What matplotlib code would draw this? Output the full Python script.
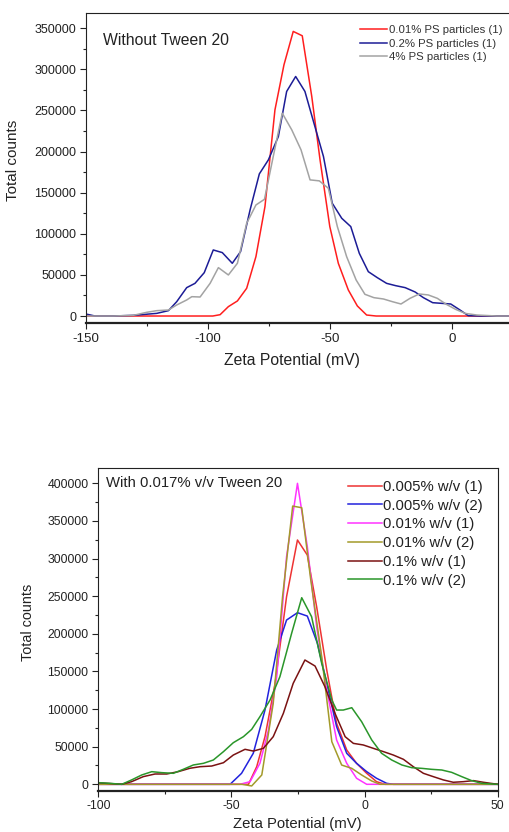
import matplotlib
matplotlib.use("Agg")
import matplotlib.pyplot as plt
from matplotlib.ticker import MultipleLocator

plt.rcParams["font.family"] = ["Liberation Sans", "DejaVu Sans"]
plt.rcParams["axes.unicode_minus"] = False

# ── Top panel data (without Tween 20) ─────────────────────────────────────────
red_x = [-150, -130, -110, -98, -95, -91.6, -87.9, -84.1, -80.3, -76.6, -72.5, -68.8,
         -65.0, -61.3, -57.4, -54.0, -50.0, -46.5, -42.4, -38.7, -34.9, -31, 0, 23.5]
red_y = [0, 0, 0, 0, 1600, 11400, 18300, 33700, 72200, 133000, 250600, 305400,
         346000, 340700, 266900, 189800, 108700, 64000, 31600, 12200, 1200, 0, 0, 0]

navy_x = [-150, -146.3, -138.8, -130.6, -121, -116.2, -112.8, -108.7, -105.3, -101.5,
          -97.8, -94.1, -90, -86.6, -82.7, -78.9, -75.2, -71.1, -67.7, -64, -60.2,
          -56.5, -52.6, -49, -45.1, -41.4, -37.9, -34.2, -30.5, -26.7, -23, -19.1,
          -15.0, -11.6, -7.8, -4.1, -0.4, 3.4, 6.8, 11.6, 18.5, 23.5]
navy_y = [2400, 0, 0, 800, 3200, 6500, 17400, 34500, 39700, 52700,
          80300, 77100, 64100, 78300, 129000, 172800, 189800, 218200, 273000, 291200, 273000,
          234400, 193900, 137100, 118800, 108700, 76200, 53900, 46600, 39700, 36900, 34500,
          29200, 22300, 16200, 15400, 14600, 7300, 400, 0, 0, 0]

gray_x = [-150, -138.8, -130.6, -125.1, -121, -116.2, -112.8, -108.7, -106.6, -103.2,
          -99.1, -95.7, -91.6, -87.9, -84.1, -80.3, -76.8, -73.2, -69.5, -65.6, -61.8,
          -58.1, -54.3, -50.6, -46.9, -43.1, -39.2, -35.6, -31.9, -28.0, -24.3, -20.8,
          -17.1, -13.3, -9.6, -5.9, -2.2, 1.6, 5.5, 10.3, 18.5, 23.5]
gray_y = [0, 0, 800, 4500, 6500, 7300, 13400, 19500, 23500, 23100,
          39700, 58800, 49900, 64100, 112700, 135000, 141900, 193900, 246600, 226300, 202000,
          165500, 164300, 155300, 108700, 72200, 43800, 26400, 22300, 20700, 17400, 14600,
          21500, 26800, 25600, 21500, 14200, 8100, 3200, 1200, 0, 0]

top_labels = ["0.01% PS particles (1)", "0.2% PS particles (1)", "4% PS particles (1)"]

# ── Bottom panel data (with 0.017% v/v Tween 20) ──────────────────────────────
r1_x = [-100, -60, -43.6, -40.5, -37.4, -33.6, -29.3, -25.2, -21.5, -18.0, -14.2, -10.5,
        -6.7, -3.0, 0.8, 4.5, 7.7, 50]
r1_y = [0, 0, 0, 23500, 63300, 134200, 249300, 324700, 304700, 236000, 151900, 81000,
        45600, 27900, 14600, 3500, 0, 0]

b2_x = [-100, -60, -50.5, -46.2, -41.8, -37.4, -33.0, -29.3, -25.2, -21.5, -17.7, -14.2,
        -10.5, -6.7, -3.0, 0.8, 4.5, 8.3, 10.8, 50]
b2_y = [0, 0, 0, 14600, 41200, 98700, 178500, 218300, 228100, 223600, 187300, 134200,
        76600, 41200, 27900, 16800, 8000, 1300, 0, 0]

m1_x = [-100, -60, -46.8, -43.0, -39.3, -36.1, -33.0, -29.3, -25.2, -21.5, -18.0, -14.2,
        -10.5, -6.7, -3.0, 0.8, 50]
m1_y = [0, 0, 0, 3500, 27900, 72200, 143000, 302500, 400000, 315800, 209500, 125300,
        58900, 27900, 8000, 0, 0]

o2_x = [-100, -60, -51.8, -46, -42.4, -38.6, -34.3, -30.8, -27.0, -23.6, -20.2, -16.1,
        -12.3, -8.6, -4.8, -1.1, 2.7, 5.8, 50]
o2_y = [0, 0, 0, 0, -2200, 12400, 107600, 249300, 369800, 367600, 271500, 169600,
        56600, 25600, 21200, 12400, 4400, 0, 0]

d1_x = [-100, -91.2, -87.5, -83.1, -78.7, -74.3, -70.0, -65.6, -61.8, -57.4, -53.0,
        -49.3, -44.9, -41.8, -38.0, -34.3, -30.5, -26.8, -22.4, -18.6, -14.9, -11.1,
        -7.3, -4.2, -0.5, 3.3, 7.1, 10.8, 14.6, 18.3, 22.1, 25.8, 29.6, 33.3, 37.1,
        40.9, 44.6, 50]
d1_y = [2000, 0, 3500, 10200, 13700, 13700, 16800, 21300, 23400, 24300, 28700,
        38900, 46500, 44200, 47800, 63300, 94300, 134200, 165200, 157200, 129800, 94300,
        63300, 54400, 52300, 47800, 43400, 38900, 33200, 23400, 14600, 10200, 5800, 2700, 3500,
        4900, 2700, 0]

g2_x = [-100, -95.6, -91.2, -87.5, -83.7, -79.9, -76.2, -71.8, -68.1, -64.3, -60.5,
        -56.8, -53.0, -49.3, -45.5, -42.4, -39.3, -35.5, -31.8, -27.4, -23.6, -19.9,
        -16.1, -12.3, -10.5, -8.0, -4.8, -1.1, 2.7, 6.4, 10.2, 14.0, 17.7, 21.5, 25.2,
        29.0, 32.7, 36.5, 40.2, 44.0, 50]
g2_y = [2200, 1300, 0, 5800, 12400, 16800, 15500, 14600, 19900, 25700, 27900,
        32300, 43400, 55300, 63300, 73000, 89900, 112000, 143000, 200600, 248000, 222800,
        160700, 112000, 98700, 98700, 101800, 83200, 58900, 41200, 32300, 25700, 22100, 21200, 19900,
        19000, 15900, 10200, 4900, 1300, 0]

bottom_labels = ["0.005% w/v (1)", "0.005% w/v (2)", "0.01% w/v (1)",
                 "0.01% w/v (2)", "0.1% w/v (1)", "0.1% w/v (2)"]

# ── Figure ───────────────────────────────────────────────────────────────────
W, H = 509, 832
fig = plt.figure(figsize=(W / 100, H / 100), dpi=100)
fig.patch.set_facecolor("white")


def px_axes(left, top, right, bottom):
    return fig.add_axes([left / W, 1 - bottom / H, (right - left) / W, (bottom - top) / H])


def style(ax, xmaj, ymaj, tick_fs):
    ax.xaxis.set_major_locator(MultipleLocator(xmaj))
    ax.xaxis.set_minor_locator(MultipleLocator(xmaj / 2))
    ax.yaxis.set_major_locator(MultipleLocator(ymaj))
    ax.yaxis.set_minor_locator(MultipleLocator(ymaj / 2))
    ax.tick_params(which="major", direction="out", length=4.5, width=0.8,
                   labelsize=tick_fs, pad=2.5, colors="#222222")
    ax.tick_params(which="minor", direction="out", length=2.5, width=0.8, colors="#222222")
    ax.tick_params(top=False, right=False, which="both")
    for s in ax.spines.values():
        s.set_linewidth(0.8)
        s.set_color("#222222")
    ax.spines["bottom"].set_linewidth(1.6)


# Top panel
ax1 = px_axes(86, 12.5, 509, 323)
ax1.plot(red_x, red_y, color="#ff1e1e", lw=1.1, label=top_labels[0])
ax1.plot(navy_x, navy_y, color="#1c1c96", lw=1.1, label=top_labels[1])
ax1.plot(gray_x, gray_y, color="#a3a3a3", lw=1.1, label=top_labels[2])
ax1.set_xlim(-150, 23.5)
ax1.set_ylim(-8500, 369000)
style(ax1, 50, 50000, 9)
ax1.tick_params(axis="x", labelsize=9.6)
ax1.spines["right"].set_visible(False)
ax1.set_xlabel("Zeta Potential (mV)", fontsize=11.3, color="#222222")
ax1.set_ylabel("Total counts", fontsize=11, color="#222222")
ax1.xaxis.set_label_coords(0.488, -0.097)
ax1.yaxis.set_label_coords(-0.156, 0.525)
ax1.text(0.041, 0.911, "Without Tween 20", transform=ax1.transAxes,
         fontsize=11.3, va="center", ha="left", color="#222222")
ax1.legend(loc="upper left", bbox_to_anchor=(0.648, 0.959), frameon=False,
           fontsize=8.2, handlelength=2.35, handletextpad=0.15, labelspacing=0.3,
           borderpad=0, borderaxespad=0, labelcolor="#333333")

# Bottom panel
ax2 = px_axes(98.3, 468.3, 497.7, 790.7)
ax2.plot(r1_x, r1_y, color="#ee3333", lw=1.1, label=bottom_labels[0])
ax2.plot(b2_x, b2_y, color="#2222dd", lw=1.1, label=bottom_labels[1])
ax2.plot(m1_x, m1_y, color="#ff33ff", lw=1.1, label=bottom_labels[2])
ax2.plot(o2_x, o2_y, color="#a39a2a", lw=1.1, label=bottom_labels[3])
ax2.plot(d1_x, d1_y, color="#7a1212", lw=1.1, label=bottom_labels[4])
ax2.plot(g2_x, g2_y, color="#2a962a", lw=1.1, label=bottom_labels[5])
ax2.set_xlim(-100, 50)
ax2.set_ylim(-8500, 420000)
style(ax2, 50, 50000, 8.8)
ax2.tick_params(axis="x", labelsize=8.8)
ax2.set_xlabel("Zeta Potential (mV)", fontsize=10.7, color="#222222")
ax2.set_ylabel("Total counts", fontsize=10.4, color="#222222")
ax2.xaxis.set_label_coords(0.498, -0.083)
ax2.yaxis.set_label_coords(-0.158, 0.522)
ax2.text(0.019, 0.953, "With 0.017% v/v Tween 20", transform=ax2.transAxes,
         fontsize=10.7, va="center", ha="left", color="#222222")
ax2.legend(loc="upper left", bbox_to_anchor=(0.625, 0.964), frameon=False,
           fontsize=10.7, handlelength=2.27, handletextpad=0.1, labelspacing=0.32,
           borderpad=0, borderaxespad=0, labelcolor="#222222")

fig.savefig("out.png", dpi=100, facecolor="white")
